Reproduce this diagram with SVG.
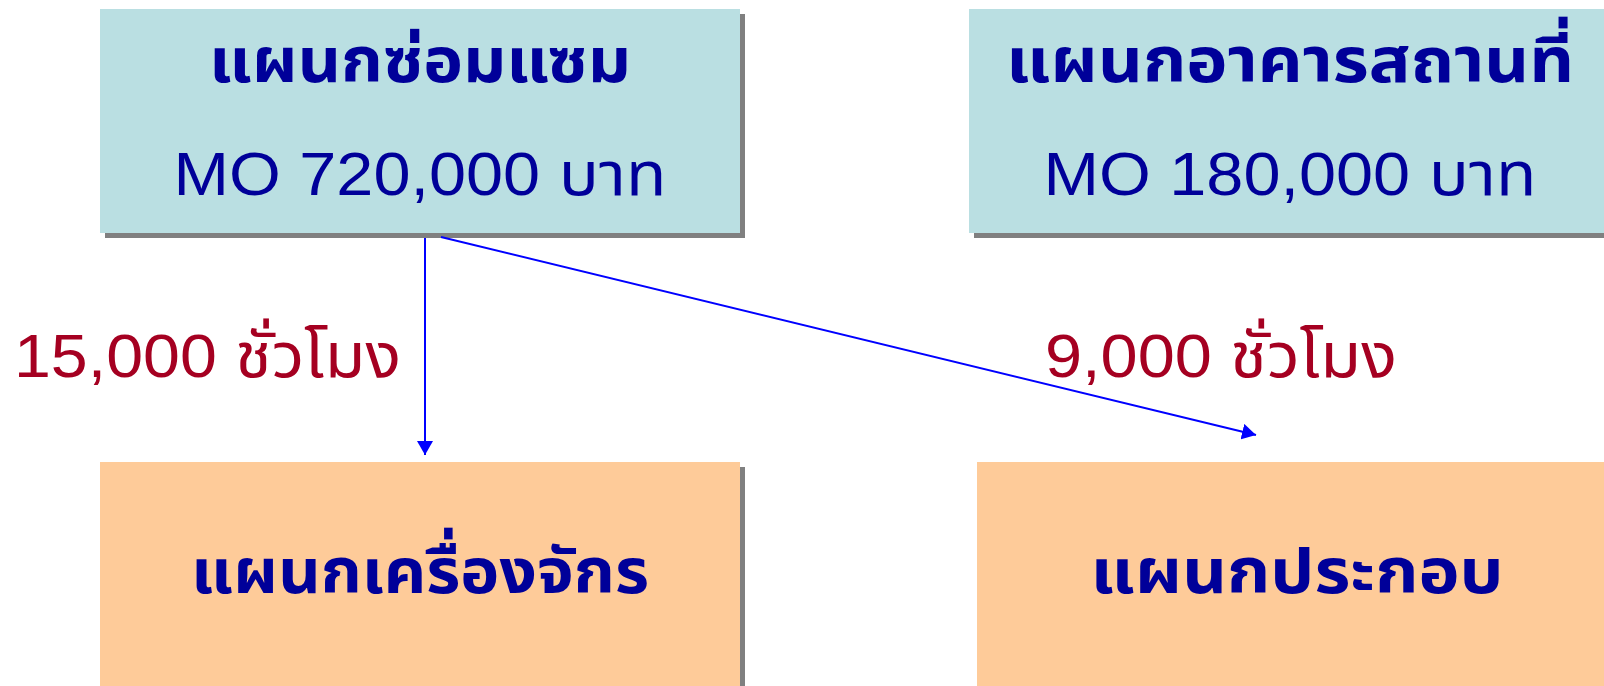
<svg xmlns="http://www.w3.org/2000/svg" width="1604" height="686" viewBox="0 0 1604 686">
<style>
.shadow{fill:#808080}
.top{fill:#BADFE2}
.bot{fill:#FECB99}
.t{font-family:"Liberation Sans","Noto Sans Thai","Tahoma","DejaVu Sans",sans-serif;fill:#000099;text-anchor:middle;font-size:61px}
.b{font-weight:bold;font-size:63px}
.lbl{font-family:"Liberation Sans","Noto Sans Thai","Tahoma","DejaVu Sans",sans-serif;fill:#A50021;font-size:62px}
.conn{stroke:#0000FF;stroke-width:2;fill:none}
</style>
<defs>
<marker id="arr" viewBox="0 0 14 16" refX="14" refY="8" markerWidth="14" markerHeight="16" markerUnits="userSpaceOnUse" orient="auto">
<path d="M0,0 L14,8 L0,16 z" fill="#0000FF"/>
</marker>
</defs>
<rect width="1604" height="686" fill="#FFFFFF"/>
<g id="node-repair">
<rect class="shadow" x="105" y="14" width="640" height="224"/>
<rect class="top" x="100" y="9" width="640" height="224"/>
<text class="t b" x="420" y="82" textLength="422" lengthAdjust="spacingAndGlyphs">แผนกซ่อมแซม</text>
<text class="t" x="420" y="195" textLength="493" lengthAdjust="spacingAndGlyphs">MO 720,000 บาท</text>
</g>
<g id="node-building">
<rect class="shadow" x="974" y="14" width="640" height="224"/>
<rect class="top" x="969" y="9" width="642" height="224"/>
<text class="t b" x="1290" y="82" textLength="568" lengthAdjust="spacingAndGlyphs">แผนกอาคารสถานที่</text>
<text class="t" x="1290" y="195" textLength="493" lengthAdjust="spacingAndGlyphs">MO 180,000 บาท</text>
</g>
<g id="node-machine">
<rect class="shadow" x="105" y="467" width="640" height="230"/>
<rect class="bot" x="100" y="462" width="640" height="230"/>
<text class="t b" x="420" y="593" textLength="458" lengthAdjust="spacingAndGlyphs">แผนกเครื่องจักร</text>
</g>
<g id="node-assembly">
<rect class="shadow" x="982" y="467" width="640" height="230"/>
<rect class="bot" x="977" y="462" width="640" height="230"/>
<text class="t b" x="1297" y="593" textLength="413" lengthAdjust="spacingAndGlyphs">แผนกประกอบ</text>
</g>
<g id="connectors">
<line class="conn" x1="425" y1="238" x2="425" y2="455" marker-end="url(#arr)"/>
<line class="conn" x1="441" y1="237" x2="1256" y2="435" marker-end="url(#arr)"/>
<text class="lbl" x="14" y="377" textLength="387" lengthAdjust="spacingAndGlyphs">15,000 ชั่วโมง</text>
<text class="lbl" x="1045" y="377" textLength="352" lengthAdjust="spacingAndGlyphs">9,000 ชั่วโมง</text>
</g>
</svg>
